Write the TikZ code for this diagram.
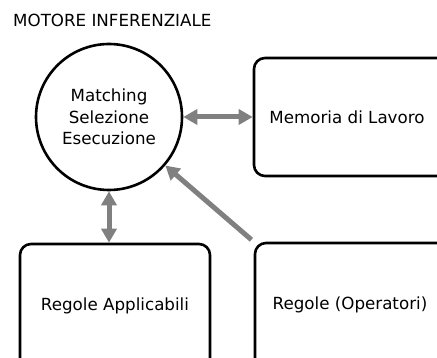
\documentclass[tikz,border=0pt]{standalone}
\usepackage{fontspec}
\setmainfont{DejaVu Sans}
\usetikzlibrary{arrows.meta}
\definecolor{linkgray}{RGB}{128,128,128}

\begin{document}
\begin{tikzpicture}[x=1pt, y=-1pt,
    box/.style={draw, line width=2.6pt, rounded corners=11pt, minimum width=190pt,
        minimum height=118pt, inner sep=0pt, font=\fontsize{16.7}{20}\selectfont},
    engine/.style={draw, circle, line width=2.6pt, minimum size=146pt, inner sep=0pt,
        align=center, font=\fontsize{16.7}{21.5}\selectfont},
    link/.style={draw=linkgray, line width=5pt},
    tip/.tip={Triangle[width=15pt, length=14pt]}]
\useasboundingbox (0,0) rectangle (437,358);
\clip (0,0) rectangle (437,358);

% Title
\node[anchor=base west, inner sep=0pt, font=\fontsize{16.7}{20}\selectfont] (title) at (13,27) {MOTORE INFERENZIALE};

% Engine and memories
\node[engine] (engine) at (109,117) {Matching\\Selezione\\Esecuzione};
\node[box, minimum width=206pt] (memory) at (357,117) {Memoria di Lavoro\hspace*{20pt}};
\node[box, minimum height=140pt, text depth=20pt] (applic) at (115,314) {Regole Applicabili};
\node[box, minimum width=206pt, minimum height=140pt, text depth=20pt] (rules) at (358,313) {Regole (Operatori)\hspace*{16pt}};

% Connections
\draw[link, tip-tip] (engine.east) -- (memory.west);
\draw[link, tip-tip] (engine.south) -- (engine.south |- applic.north);
\draw[link, -tip, shorten <=3pt] (rules.north west) -- (engine);
\end{tikzpicture}
\end{document}
